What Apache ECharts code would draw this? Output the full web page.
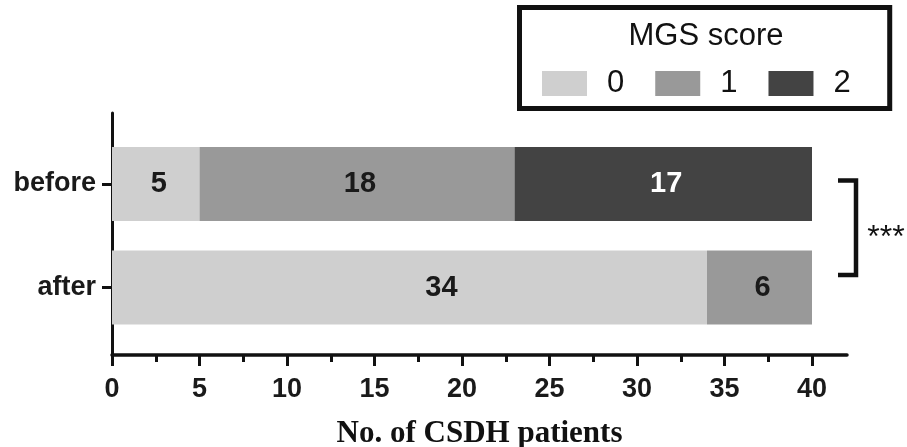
<!DOCTYPE html>
<html>
<head>
<meta charset="utf-8">
<script src="https://cdn.jsdelivr.net/npm/echarts@6/dist/echarts.min.js"></script>
<style>html,body{margin:0;padding:0;background:#fff;}#c{width:907px;height:447px;}</style>
</head>
<body>
<div id="c"></div>
<script>
const categories = ['before', 'after'];
const legendNames = ['0', '1', '2'];
const score0 = [5, 34];
const score1 = [18, 6];
const score2 = [17, 0];
const xTicks = [0, 5, 10, 15, 20, 25, 30, 35, 40];
const xMinorTicks = [2.5, 7.5, 12.5, 17.5, 22.5, 27.5, 32.5, 37.5];
const xName = 'No. of CSDH patients';
const legendTitle = 'MGS score';
const sigText = '***';

const colors = ['#cfcfcf', '#999999', '#434343'];
const labelColors = ['#1a1a1a', '#1a1a1a', '#ffffff'];
const SANS = 'Liberation Sans';

const chart = echarts.init(document.getElementById('c'), null, {renderer: 'canvas'});

function mkSeries(idx, values, itemOffsets) {
  return {
    name: legendNames[idx],
    type: 'bar',
    stack: 'total',
    xAxisIndex: 0,
    yAxisIndex: 0,
    barWidth: 74,
    itemStyle: {color: colors[idx]},
    label: {
      show: true,
      position: 'inside',
      offset: [3, 0],
      color: labelColors[idx],
      fontFamily: SANS,
      fontWeight: 'bold',
      fontSize: 29,
      formatter: p => (p.value ? String(p.value) : '')
    },
    data: values.map((v, i) => itemOffsets && itemOffsets[i] ? {value: v, label: {offset: itemOffsets[i]}} : v),
    emphasis: {disabled: true}
  };
}

const option = {
  animation: false,
  backgroundColor: '#ffffff',
  grid: [
    {left: 112, width: 735, top: 132.25, height: 207, outerBoundsMode: 'none', containLabel: false},
    {left: 112, width: 735, top: 113, height: 242, outerBoundsMode: 'none', containLabel: false}
  ],
  xAxis: [
    {gridIndex: 0, type: 'value', min: 0, max: 42, show: false},
    {
      gridIndex: 1, type: 'value', min: 0, max: 42, position: 'bottom',
      axisLine: {show: true, lineStyle: {color: '#111', width: 3.5}},
      axisTick: {show: true, length: 11, lineStyle: {color: '#111', width: 3}, customValues: xTicks},
      axisLabel: {show: true, customValues: xTicks, color: '#1a1a1a', fontFamily: SANS, fontWeight: 'bold', fontSize: 27, margin: 21},
      splitLine: {show: false},
      name: xName, nameLocation: 'middle', nameGap: 63,
      nameTextStyle: {fontFamily: 'Liberation Serif', fontWeight: 'bold', fontSize: 31, color: '#111'}
    },
    {
      gridIndex: 1, type: 'value', min: 0, max: 42, position: 'bottom',
      axisLine: {show: false},
      axisTick: {show: true, length: 7, lineStyle: {color: '#111', width: 3}, customValues: xMinorTicks},
      axisLabel: {show: false},
      splitLine: {show: false}
    }
  ],
  yAxis: [
    {
      gridIndex: 0, type: 'category', data: categories, inverse: true,
      axisLine: {show: false},
      axisTick: {show: true, alignWithLabel: true, length: 10, lineStyle: {color: '#111', width: 3}},
      axisLabel: {color: '#1a1a1a', fontFamily: SANS, fontWeight: 'bold', fontSize: 27, margin: 16},
      splitLine: {show: false}
    },
    {
      gridIndex: 1, type: 'value', min: 0, max: 1,
      axisLine: {show: true, lineStyle: {color: '#111', width: 3}},
      axisTick: {show: false}, axisLabel: {show: false}, splitLine: {show: false}
    }
  ],
  legend: {
    data: legendNames,
    left: 519.5, top: 7.5,
    orient: 'horizontal',
    icon: 'rect',
    itemWidth: 45, itemHeight: 25, itemGap: 31,
    padding: [60.5, 39, 9.5, 22.5],
    borderColor: '#111', borderWidth: 5, borderRadius: 0,
    backgroundColor: '#fff',
    selectedMode: false,
    textStyle: {fontFamily: SANS, fontSize: 31, color: '#111', lineHeight: 25, padding: [0, 0, 0, 15]}
  },
  graphic: [
    {type: 'text', x: 706, y: 36, style: {text: legendTitle, font: '31px "Liberation Sans"', fill: '#111', textAlign: 'center', textVerticalAlign: 'middle'}, z: 100},
    {type: 'polyline', shape: {points: [[838, 180.5], [856, 180.5], [856, 275], [838, 275]]}, style: {stroke: '#111', lineWidth: 4.5, fill: null}},
    {type: 'text', x: 886, y: 238, style: {text: sigText, font: '32px "Liberation Sans"', fill: '#111', textAlign: 'center', textVerticalAlign: 'middle'}}
  ],
  series: [
    mkSeries(0, score0, [null, [32, 0]]),
    mkSeries(1, score1),
    mkSeries(2, score2)
  ]
};
chart.setOption(option);
</script>
</body>
</html>
